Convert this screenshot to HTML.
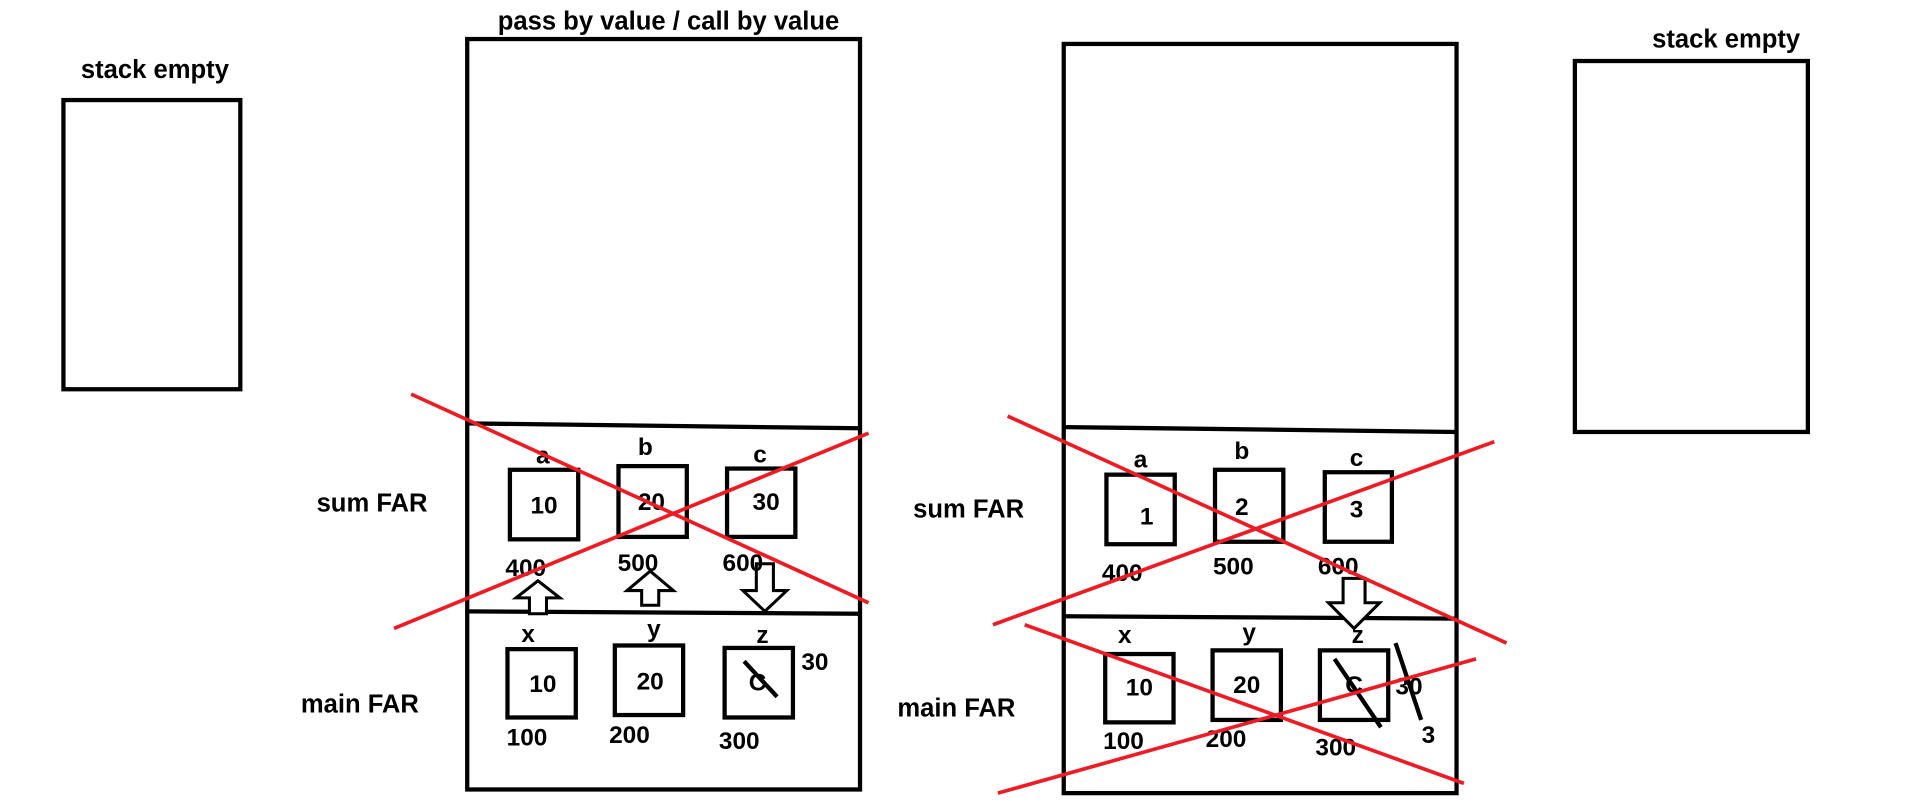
<!DOCTYPE html>
<html><head><meta charset="utf-8"><style>
html,body{margin:0;padding:0;background:#fff;width:1914px;height:809px;overflow:hidden}
svg{display:block}
text{font-family:"Liberation Sans",sans-serif;font-weight:bold;font-size:20px;fill:#000;text-anchor:middle}
text.lbl{font-size:21px}
</style></head><body>
<svg width="1914" height="809" viewBox="0 0 1569 663" preserveAspectRatio="none" xmlns="http://www.w3.org/2000/svg">
<g fill="none" stroke="#000" stroke-width="3.5">
<rect x="52" y="82" width="145" height="237"/>
<rect x="383" y="32" width="322" height="615"/>
<line x1="383" y1="347" x2="705" y2="351"/><line x1="383" y1="501" x2="705" y2="503"/>
<rect x="418" y="385" width="56" height="57"/><rect x="507" y="382" width="56" height="58"/><rect x="596" y="384" width="56" height="56"/>
<rect x="416" y="532" width="56" height="56"/><rect x="504" y="529" width="56" height="57"/><rect x="594" y="531" width="56" height="57"/>
<line x1="610" y1="542" x2="637" y2="571"/>
<rect x="872" y="36" width="322" height="614"/>
<line x1="872" y1="350" x2="1194" y2="354"/><line x1="872" y1="505" x2="1194" y2="507"/>
<rect x="907" y="389" width="56" height="57"/><rect x="996" y="385" width="56" height="59"/><rect x="1086" y="387" width="55" height="57"/>
<rect x="906" y="536" width="56" height="56"/><rect x="994" y="533" width="56" height="57"/><rect x="1082" y="533" width="56" height="57"/>
<line x1="1094" y1="540" x2="1132" y2="596"/><line x1="1144" y1="527" x2="1165" y2="590"/>
<rect x="1291" y="50" width="191" height="304"/>
<g stroke-width="2.5" fill="#fff">
<path d="M434 503 V490 H423 L441 476 L459 490 H448 V503 Z"/>
<path d="M526 496 V484 H514 L533 468 L552 484 H540 V496 Z"/>
<path d="M620 462 H634 V484 H645 L627 501 L609 484 H620 Z"/>
<path d="M1101 474 H1119 V494 H1131 L1110 515 L1089 494 H1101 Z"/>
</g>
</g>
<text class="lbl" x="548" y="24">pass by value / call by value</text>
<text class="lbl" x="127" y="64">stack empty</text>
<text class="lbl" x="1415" y="39">stack empty</text>
<text class="lbl" x="305" y="419">sum FAR</text><text class="lbl" x="295" y="584">main FAR</text>
<text class="lbl" x="794" y="424">sum FAR</text><text class="lbl" x="784" y="587">main FAR</text>
<text x="445" y="380">a</text><text x="529" y="373">b</text><text x="623" y="379">c</text>
<text x="446" y="421">10</text><text x="534" y="418">20</text><text x="628" y="418">30</text>
<text x="431" y="472">400</text><text x="523" y="468">500</text><text x="609" y="468">600</text>
<text x="433" y="526">x</text><text x="536" y="522">y</text><text x="625" y="527">z</text>
<text x="445" y="567">10</text><text x="533" y="565">20</text><text x="621" y="566">C</text><text x="668" y="549">30</text>
<text x="432" y="611">100</text><text x="516" y="609">200</text><text x="606" y="614">300</text>
<text x="935" y="383">a</text><text x="1018" y="376">b</text><text x="1112" y="382">c</text>
<text x="940" y="430">1</text><text x="1018" y="422">2</text><text x="1112" y="424">3</text>
<text x="920" y="476">400</text><text x="1011" y="471">500</text><text x="1097" y="471">600</text>
<text x="922" y="527">x</text><text x="1024" y="525">y</text><text x="1113" y="527">z</text>
<text x="934" y="570">10</text><text x="1022" y="568">20</text><text x="1110" y="568">C</text><text x="1155" y="569">30</text><text x="1171" y="609">3</text>
<text x="921" y="614">100</text><text x="1005" y="612">200</text><text x="1095" y="619">300</text>
<g stroke="#ed1c24" stroke-width="3">
<line x1="337" y1="323" x2="712" y2="494"/><line x1="323" y1="515" x2="712" y2="355"/>
<line x1="826" y1="341" x2="1235" y2="527"/><line x1="814" y1="512" x2="1225" y2="362"/>
<line x1="840" y1="512" x2="1200" y2="642"/><line x1="818" y1="650" x2="1210" y2="540"/>
</g>
</svg>
</body></html>
